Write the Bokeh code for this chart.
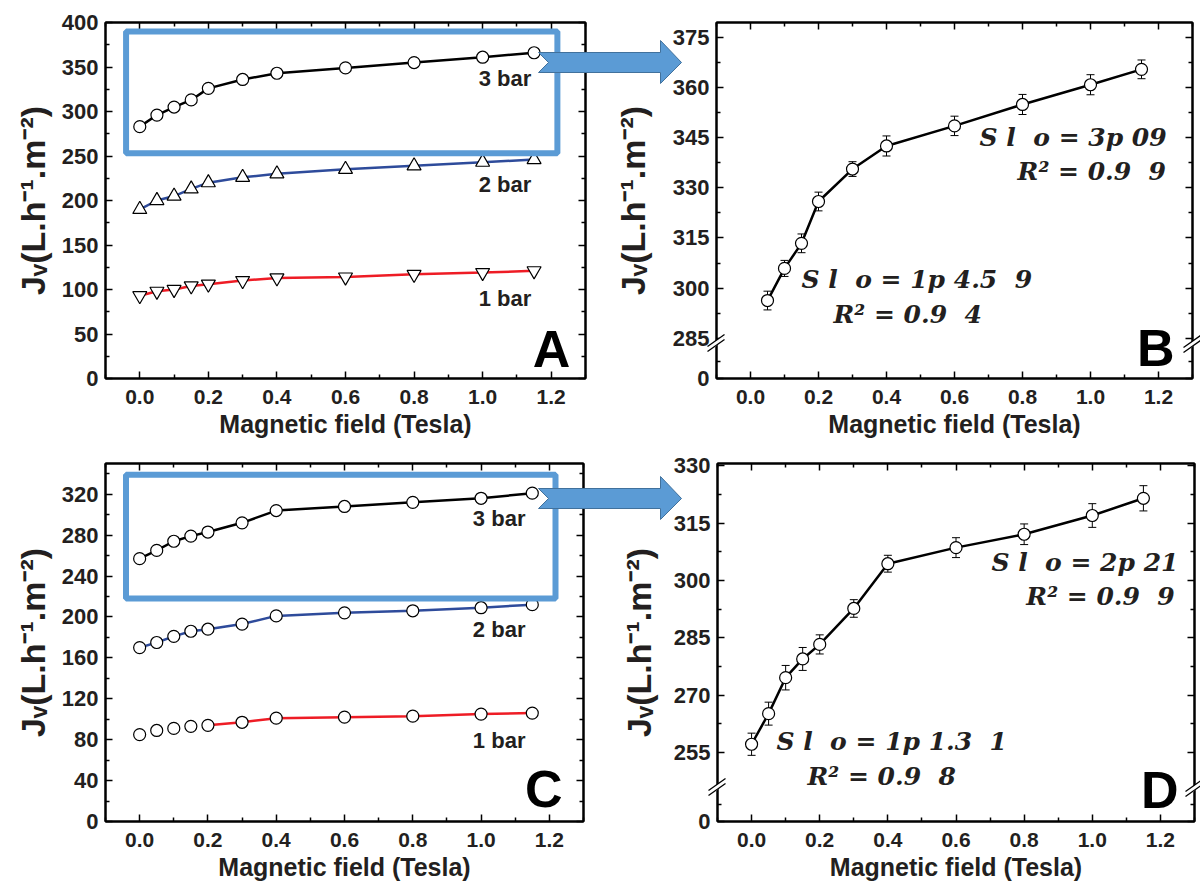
from bokeh.plotting import figure
from bokeh.layouts import column, row
from bokeh.models import (Range1d, LinearAxis, FixedTicker, CustomJSTickFormatter,
                          Whisker, TeeHead, ColumnDataSource, BoxAnnotation)
from bokeh.embed import file_html
from bokeh.resources import INLINE
from bokeh.core.properties import value

# ---------------- data ----------------
field = [0.0, 0.05, 0.1, 0.15, 0.2, 0.3, 0.4, 0.6, 0.8, 1.0, 1.15]

a_3bar = [283, 296, 305, 313, 326, 336, 343, 349, 355, 361, 366]
a_2bar = [190, 200, 205, 213, 220, 226, 230, 235, 239, 243, 246]
a_1bar = [93, 98, 100, 104, 106, 110, 113, 114, 117, 119, 121]

b_field = [0.05, 0.1, 0.15, 0.2, 0.3, 0.4, 0.6, 0.8, 1.0, 1.15]
b_flux = [296.3, 305.9, 313.4, 325.9, 335.6, 342.5, 348.5, 354.9, 360.8, 365.4]
b_err = [2.8, 2.4, 2.8, 2.8, 2.2, 3.0, 2.9, 3.0, 3.0, 2.8]

c_3bar = [257, 265, 274, 279, 283, 292, 304, 308, 312, 316, 321]
c_2bar = [170, 175, 181, 186, 188, 193, 201, 204, 206, 209, 212]
c_1bar = [85, 89, 91, 93, 94, 97, 101, 102, 103, 105, 106]

d_field = field
d_flux = [257.2, 265.2, 274.6, 279.5, 283.3, 292.7, 304.4, 308.6, 312.1, 317.0, 321.5]
d_err = [2.9, 3.0, 3.2, 3.0, 2.5, 2.3, 2.2, 2.6, 2.7, 3.1, 3.3]

x_ticks = [0.0, 0.2, 0.4, 0.6, 0.8, 1.0, 1.2]
x_minor = [-0.1, 0.1, 0.3, 0.5, 0.7, 0.9, 1.1, 1.3]
a_yticks = [0, 50, 100, 150, 200, 250, 300, 350, 400]
a_yminor = [25, 75, 125, 175, 225, 275, 325, 375]
b_yticks = [273, 285, 300, 315, 330, 345, 360, 375]
b_yminor = [278, 292.5, 307.5, 322.5, 337.5, 352.5, 367.5]
c_yticks = [0, 40, 80, 120, 160, 200, 240, 280, 320]
c_yminor = [20, 60, 100, 140, 180, 220, 260, 300, 340]
d_yticks = [237, 255, 270, 285, 300, 315, 330]
d_yminor = [241.5, 262.5, 277.5, 292.5, 307.5, 322.5]

series_labels = ["3 bar", "2 bar", "1 bar"]
x_label = "Magnetic field (Tesla)"
y_label = "J\u1d65(L.h\u207b\u00b9.m\u207b\u00b2)"
NB = "\u00a0"

SANS = "Liberation Sans"
SERIF = "DejaVu Serif"
INK = "#231f20"
RED = "#ee1c25"
BLUE = "#2e4b9b"
LBLUE = "#5b9bd5"
DBLUE = "#41719c"


def style_axes(p, xt, xm, yt, ym, yfmt, ylab_standoff):
    xa = p.below[0]
    ya = p.left[0]
    xa.ticker = FixedTicker(ticks=xt, minor_ticks=xm)
    xa.formatter = CustomJSTickFormatter(code="return tick.toFixed(1);")
    ya.ticker = FixedTicker(ticks=yt, minor_ticks=ym)
    ya.formatter = CustomJSTickFormatter(code=yfmt)
    blank = CustomJSTickFormatter(code="return '';")
    top = LinearAxis(ticker=FixedTicker(ticks=xt, minor_ticks=xm), formatter=blank)
    right = LinearAxis(ticker=FixedTicker(ticks=yt, minor_ticks=ym), formatter=blank)
    p.add_layout(top, "above")
    p.add_layout(right, "right")
    for ax in [xa, ya, top, right]:
        ax.axis_line_width = 2
        ax.axis_line_color = "black"
        ax.major_tick_in = 7
        ax.major_tick_out = 0
        ax.minor_tick_in = 4
        ax.minor_tick_out = 0
        ax.major_tick_line_width = 1.5
        ax.minor_tick_line_width = 1.5
        ax.major_label_text_font = SANS
        ax.major_label_text_font_style = "bold"
        ax.major_label_text_font_size = "22px"
        ax.major_label_text_color = INK
    for ax in [top, right]:
        ax.major_label_text_font_size = "0px"
        ax.major_label_standoff = 0
    xa.major_label_text_font_size = "21px"
    xa.axis_label = x_label
    xa.axis_label_text_font = SANS
    xa.axis_label_text_font_style = "bold"
    xa.axis_label_text_font_size = "25px"
    xa.axis_label_text_color = INK
    xa.major_label_standoff = 11
    xa.axis_label_standoff = 3
    ya.axis_label = y_label
    ya.axis_label_text_font = SANS
    ya.axis_label_text_font_style = "bold"
    ya.axis_label_text_font_size = "34px"
    ya.axis_label_text_color = INK
    ya.major_label_standoff = 7
    ya.axis_label_standoff = ylab_standoff


def make_fig(w, h, yr, borders):
    l, r, t, b = borders
    p = figure(width=w, height=h, x_range=Range1d(-0.1, 1.3), y_range=Range1d(*yr),
               output_backend="svg", toolbar_location=None,
               min_border_left=l, min_border_right=r, min_border_top=t, min_border_bottom=b)
    p.grid.visible = False
    p.outline_line_color = "black"
    p.outline_line_width = 2
    return p


def overview(p, ys, line_starts, marker_kinds, lab_x, lab_ys, box):
    colors = ["black", BLUE, RED]
    for y, c, s in zip(ys, colors, line_starts):
        p.line(field[s:], y[s:], line_color=c, line_width=2.5)
    for y, m in zip(ys, marker_kinds):
        size = 12 if m == "circle" else 14
        p.scatter(field, y, marker=m, size=size, fill_color="white",
                  line_color="black", line_width=1.2)
    p.text(x=[lab_x] * 3, y=lab_ys, text=series_labels, text_font=value(SANS),
           text_font_style="bold", text_font_size="22px", text_color=INK,
           text_align="right", text_baseline="middle")
    p.add_layout(BoxAnnotation(left=box[0], right=box[1], bottom=box[2], top=box[3],
                               fill_alpha=0, line_color=LBLUE, line_alpha=1, line_width=6))


def zoomed(p, xs, ys, errs, slope_lines):
    src = ColumnDataSource(dict(x=xs, upper=[v + e for v, e in zip(ys, errs)],
                                lower=[v - e for v, e in zip(ys, errs)]))
    p.add_layout(Whisker(source=src, base="x", upper="upper", lower="lower",
                         line_width=1, line_color="black", level="underlay",
                         upper_head=TeeHead(size=8, line_width=1),
                         lower_head=TeeHead(size=8, line_width=1)))
    p.line(xs, ys, line_color="black", line_width=2.5)
    p.scatter(xs, ys, marker="circle", size=12, fill_color="white",
              line_color="black", line_width=1.2)
    for (x, y, txt, align) in slope_lines:
        p.text(x=[x], y=[y], text=[txt], text_font=value(SERIF), text_font_style="bold italic",
               text_font_size="25px", text_color=INK, text_align=align, text_baseline="middle")


def panel_letter(p, x, y, letter):
    p.text(x=[x], y=[y], text=[letter], text_font=value(SANS), text_font_style="bold",
           text_font_size="52px", text_color="black", text_align="right",
           text_baseline="middle")


WL, WR, HT, HB = 600, 600, 440, 443
bA = (105, 15, 22, 59)
bB = (116, 8, 20, 60)
bC = (105, 17, 23, 62)
bD = (117, 6, 23, 60)
yrA, yrB, yrC, yrD = (0, 400), (273, 379.4), (0, 350), (237, 330.6)

# ---- A ----
pA = make_fig(WL, HT, yrA, bA)
style_axes(pA, x_ticks, x_minor, a_yticks, a_yminor, "return tick.toFixed(0);", 7)
overview(pA, [a_3bar, a_2bar, a_1bar], [0, 0, 0],
         ["circle", "triangle", "inverted_triangle"], 1.142, [337, 218, 90],
         (-0.04, 1.218, 253, 390))
panel_letter(pA, 1.256, 33, "A")

# ---- B ----
pB = make_fig(WR, HT, yrB, bB)
style_axes(pB, x_ticks, x_minor, b_yticks, b_yminor,
           "return tick < 280 ? '0' : tick.toFixed(0);", 18)
zoomed(pB, b_field, b_flux, b_err, [
    (1.224, 345, "S l" + NB * 2 + "o = 3p 09", "right"),
    (1.222, 335, "R\u00b2 = 0.9" + NB * 2 + "9", "right"),
    (0.15, 302.5, "S l" + NB * 2 + "o = 1p 4.5" + NB * 2 + "9", "left"),
    (0.244, 292, "R\u00b2 = 0.9" + NB * 2 + "4", "left"),
])
panel_letter(pB, 1.247, 282.2, "B")

# ---- C ----
pC = make_fig(WL, HB, yrC, bC)
style_axes(pC, x_ticks, x_minor, c_yticks, c_yminor, "return tick.toFixed(0);", 7)
overview(pC, [c_3bar, c_2bar, c_1bar], [0, 0, 4],
         ["circle", "circle", "circle"], 1.13, [296, 188, 79],
         (-0.04, 1.218, 218, 339))
panel_letter(pC, 1.239, 31.3, "C")

# ---- D ----
pD = make_fig(WR, HB, yrD, bD)
style_axes(pD, x_ticks, x_minor, d_yticks, d_yminor,
           "return tick < 250 ? '0' : tick.toFixed(0);", 13)
zoomed(pD, d_field, d_flux, d_err, [
    (1.253, 304.6, "S l" + NB * 2 + "o = 2p 21", "right"),
    (1.242, 295.7, "R\u00b2 = 0.9" + NB * 2 + "9", "right"),
    (0.073, 257.9, "S l" + NB * 2 + "o = 1p 1.3" + NB * 2 + "1", "left"),
    (0.164, 248.8, "R\u00b2 = 0.9" + NB * 2 + "8", "left"),
])
panel_letter(pD, 1.253, 245.3, "D")

# ---- decorative overlay (page pixel coordinates): arrows and axis breaks ----
ov = figure(width=1200, height=883, x_range=Range1d(0, 1200), y_range=Range1d(883, 0),
            x_axis_type=None, y_axis_type=None, toolbar_location=None,
            output_backend="svg", min_border=0,
            background_fill_color=None, border_fill_color=None, outline_line_color=None,
            styles={"position": "absolute", "left": "0px", "top": "0px",
                    "z-index": "5", "pointer-events": "none"})
ov.grid.visible = False


def arrow(ymid):
    xs = [538, 660, 660, 681, 660, 660, 538, 548]
    ys = [ymid - 10, ymid - 10, ymid - 22, ymid, ymid + 21, ymid + 10, ymid + 10, ymid]
    ov.patch(xs, ys, fill_color=LBLUE, line_color=DBLUE, line_width=1)


def axis_break(cx, cy):
    ov.patch([cx - 8, cx + 6, cx + 8, cx - 6], [cy + 3, cy - 8, cy - 4, cy + 7],
             fill_color="white", line_alpha=0)
    for d in (0, 5):
        ov.line([cx - 9, cx + 8], [cy + 3 + d, cy - 9 + d], line_color="black", line_width=1.3)


arrow(62)
arrow(498)
axis_break(716, 343)
axis_break(1192, 344)
axis_break(717, 787)
axis_break(1194, 788)

layout = column(row(pA, pB), row(pC, pD), ov)
open("out.html", "w").write(file_html(layout, INLINE))
